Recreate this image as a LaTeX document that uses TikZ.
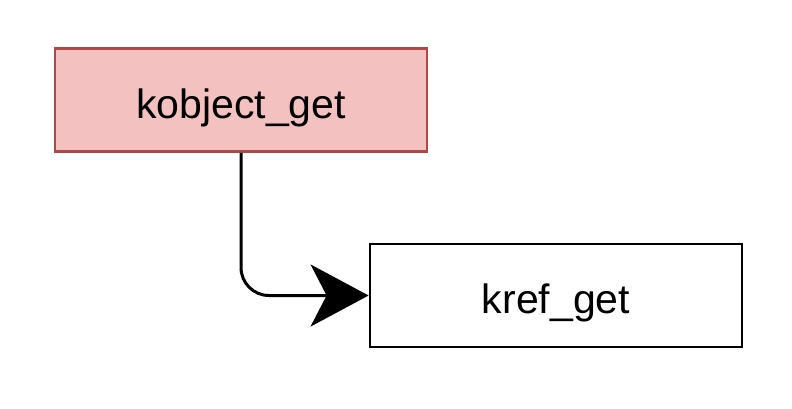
\documentclass[tikz,border=0pt]{standalone}
\usepackage{fontspec}
\setmainfont{Liberation Sans}
\usetikzlibrary{arrows.meta}
\definecolor{pinkfill}{HTML}{F4C1C1}
\definecolor{pinkline}{HTML}{B04848}
\begin{document}
\begin{tikzpicture}[x=1pt,y=-1pt,
  box/.style={draw, line width=2.8pt, minimum width=372pt, minimum height=103pt, inner sep=0pt, text height=36pt, text depth=0pt, font=\fontsize{41}{45}\selectfont},
  conn/.style={line width=3pt, rounded corners=28pt, -{Stealth[length=58pt,width=62pt,inset=16pt]}}]
\useasboundingbox (0,0) rectangle (792,408);
\node[box, fill=pinkfill, draw=pinkline] (a) at (241,100) {kobject\_get};
\node[box] (b) at (556,295.5) {kref\_get};
\draw[conn] (a.south) |- (b.west);
\end{tikzpicture}
\end{document}
